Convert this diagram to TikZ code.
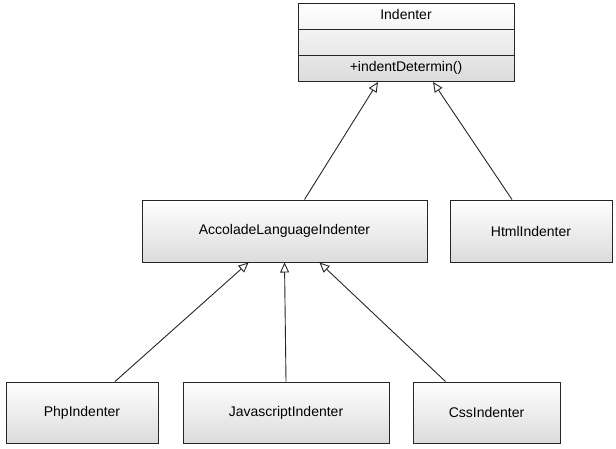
\documentclass[tikz,border=0pt]{standalone}
\usepackage{fontspec}
\setmainfont{Liberation Sans}
\usetikzlibrary{shapes.multipart, arrows.meta, positioning}

\begin{document}
\begin{tikzpicture}[
    x=1pt, y=-1pt,
    cls/.style={rectangle, draw=black!85, line width=1pt, top color=white, bottom color=black!14, minimum height=61pt, font=\fontsize{14}{16}\selectfont, align=center},
    umlclass/.style={rectangle split, rectangle split parts=3, draw=black!85, line width=1pt, top color=white, bottom color=black!14, text width=204pt, inner xsep=6pt, inner ysep=4.5pt, align=center, font=\fontsize{14}{16}\selectfont},
    inherit/.style={draw=black!85, line width=0.9pt, -{Triangle[open, length=10pt, width=9pt, fill=white]}}
]
    \useasboundingbox (0,0) rectangle (616,448);

    \node (indenter) [umlclass] at (406,42.5) {\strut Indenter
        \nodepart{second}\strut
        \nodepart{third}\strut +indentDetermin()};
    \node (accolade) [cls, minimum width=285pt, minimum height=62pt] at (284.5,231) {AccoladeLanguageIndenter};
    \node (html) [cls, minimum width=162pt, minimum height=62pt] at (531,231) {HtmlIndenter};
    \node (php) [cls, minimum width=152pt] at (82,412.5) {PhpIndenter};
    \node (js) [cls, minimum width=206pt] at (286,412.5) {JavascriptIndenter};
    \node (css) [cls, minimum width=147pt] at (486.5,412.5) {CssIndenter};

    \draw [inherit] ([xshift=20pt]accolade.north) -- ([xshift=-28pt]indenter.south);
    \draw [inherit] ([xshift=-19pt]html.north) -- ([xshift=27pt]indenter.south);
    \draw [inherit] ([xshift=33pt]php.north) -- ([xshift=-36pt]accolade.south);
    \draw [inherit] (js.north) -- (accolade.south);
    \draw [inherit] ([xshift=-41pt]css.north) -- ([xshift=35pt]accolade.south);
\end{tikzpicture}
\end{document}
